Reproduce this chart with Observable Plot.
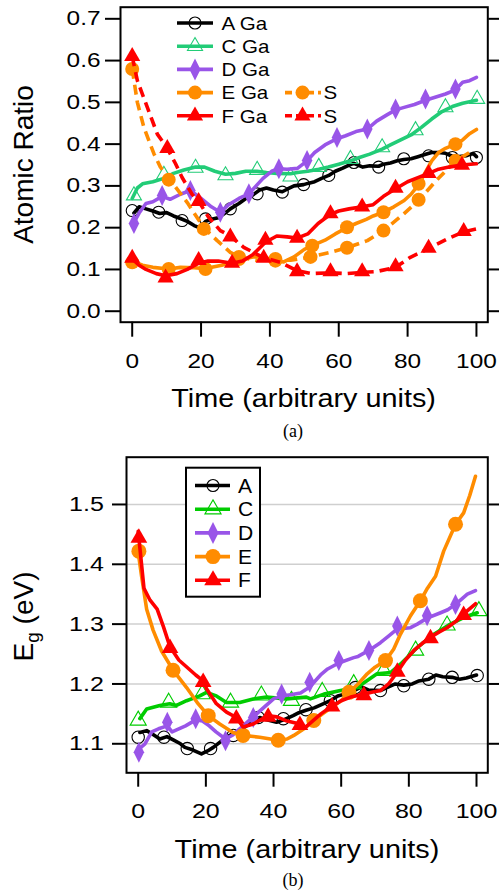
<!DOCTYPE html>
<html>
<head>
<meta charset="utf-8">
<script src="https://cdn.jsdelivr.net/npm/d3@7"></script>
<script src="https://cdn.jsdelivr.net/npm/@observablehq/plot@0.6"></script>
<style>
html,body{margin:0;padding:0;background:#fff;}
#wrap{position:relative;width:499px;height:893px;overflow:hidden;background:#fff;}
#pa{position:absolute;left:0;top:0;}
#pb{position:absolute;left:0;top:440px;}
.cap{position:absolute;width:40px;text-align:center;font-family:"Liberation Serif","Times New Roman",serif;font-size:18px;line-height:20px;color:#000;}
</style>
</head>
<body>
<div id="wrap">
<div id="pa"></div>
<div id="pb"></div>
<div class="cap" style="left:273px;top:421px;">(a)</div>
<div class="cap" style="left:273px;top:870px;">(b)</div>
</div>
<script>
// ---------- ticks & labels ----------
const xTicks = [0, 20, 40, 60, 80, 100];
const ratioTicks = [0, 0.1, 0.2, 0.3, 0.4, 0.5, 0.6, 0.7];
const egTicks = [1.1, 1.2, 1.3, 1.4, 1.5];
const legendA = ["A Ga", "C Ga", "D Ga", "E Ga", "F Ga"];
const legendS = ["S", "S"];
const legendB = ["A", "C", "D", "E", "F"];

// ---------- panel (a): atomic ratio ----------
const aA_line = [[0.5,0.235],[2,0.25],[4,0.245],[6,0.24],[8,0.234],[10,0.236],[12,0.228],[14,0.222],[16,0.215],[18,0.205],[19.5,0.2],[21.3,0.215],[23,0.22],[25,0.224],[27,0.235],[28.5,0.245],[31,0.258],[33,0.27],[35,0.278],[37,0.29],[39,0.295],[41,0.29],[43.6,0.286],[45,0.292],[47,0.3],[49.8,0.303],[51,0.306],[53,0.31],[55,0.318],[57.1,0.325],[59,0.335],[61,0.342],[63,0.35],[64.4,0.354],[67,0.345],[69,0.348],[71.6,0.347],[73,0.352],[75,0.355],[77,0.36],[78.9,0.363],[81,0.365],[83,0.37],[85,0.375],[87,0.38],[89,0.38],[91,0.378],[93,0.371],[95,0.37],[97,0.372],[99,0.378],[100,0.37]];
const aA_marks = [[0,0.241],[7.7,0.237],[14.5,0.217],[21.3,0.221],[28.5,0.245],[36.3,0.281],[43.6,0.285],[49.8,0.303],[57.1,0.325],[64.4,0.356],[71.6,0.345],[78.9,0.365],[86.1,0.372],[93,0.368],[100,0.368]];

const aC_line = [[0,0.27],[1.5,0.295],[3,0.305],[6,0.31],[9.2,0.318],[12,0.33],[15,0.338],[18.4,0.345],[21,0.345],[24,0.335],[27.1,0.328],[30,0.33],[33,0.335],[36.3,0.335],[39,0.332],[42,0.33],[46,0.329],[48,0.332],[51,0.335],[54.2,0.34],[57,0.345],[60,0.352],[63.4,0.36],[66,0.368],[69,0.376],[72.6,0.388],[75,0.398],[78,0.41],[81,0.422],[84,0.44],[87,0.46],[90,0.478],[93,0.49],[96,0.498],[100,0.505]];
const aC_marks = [[0.5,0.277],[9.2,0.326],[18.4,0.343],[27.1,0.325],[36.3,0.338],[46,0.322],[54.2,0.345],[63.4,0.364],[72.6,0.392],[82.3,0.433],[91,0.488],[100.2,0.508]];

const aD_line = [[0,0.205],[2,0.235],[4,0.258],[6,0.262],[8.7,0.275],[11,0.268],[14,0.28],[16.9,0.289],[20,0.27],[23,0.25],[25.6,0.237],[28,0.255],[31,0.27],[33.9,0.281],[36,0.3],[38,0.318],[40.5,0.335],[42.6,0.341],[45,0.34],[48,0.342],[50.8,0.36],[53,0.38],[56,0.398],[59.5,0.413],[62,0.42],[65,0.43],[68.3,0.436],[71,0.455],[74,0.47],[76.5,0.482],[79,0.488],[82,0.495],[85.2,0.505],[88,0.512],[91,0.52],[93.9,0.53],[96,0.548],[98,0.552],[100,0.56]];
const aD_marks = [[0.5,0.21],[8.7,0.277],[16.9,0.289],[25.6,0.237],[33.9,0.281],[42.6,0.341],[50.8,0.361],[59.5,0.416],[68.3,0.436],[76.5,0.484],[85.2,0.508],[93.9,0.532]];

const aE_line = [[0,0.12],[3,0.11],[6,0.105],[10.6,0.101],[14,0.105],[18,0.104],[21.3,0.102],[26,0.11],[31,0.122],[35,0.13],[38,0.13],[41.6,0.121],[44,0.118],[47,0.13],[50,0.148],[52.3,0.157],[56,0.17],[59,0.185],[62.4,0.2],[65,0.21],[68,0.22],[70,0.228],[73,0.237],[76,0.25],[79,0.265],[81,0.28],[83.2,0.303],[85,0.33],[87,0.36],[89,0.38],[91,0.39],[93.9,0.4],[96,0.41],[98,0.425],[100,0.435]];
const aE_marks = [[0,0.117],[10.6,0.101],[21.3,0.101],[31,0.125],[41.6,0.121],[52.3,0.157],[62.4,0.201],[73,0.237],[83.2,0.305],[93.9,0.4]];

const aES_line = [[0,0.58],[1.5,0.5],[3.4,0.44],[6.3,0.377],[8.2,0.345],[10.6,0.315],[12.6,0.297],[16,0.26],[18.4,0.23],[20.8,0.2],[24.7,0.169],[28.5,0.141],[31,0.13],[36,0.122],[41.6,0.122],[46,0.122],[51.8,0.13],[57.6,0.141],[62.4,0.152],[68.3,0.169],[73,0.193],[78.9,0.233],[83.2,0.265],[88,0.31],[93.9,0.36],[98,0.38]];
const aES_marks = [[0,0.58],[10.6,0.315],[20.8,0.197],[31,0.13],[41.6,0.125],[51.8,0.13],[62.4,0.152],[73,0.193],[83.2,0.267],[93.9,0.36]];

const aF_line = [[0,0.125],[2,0.11],[4,0.1],[7,0.09],[9.7,0.085],[13,0.09],[16,0.1],[19.3,0.115],[22,0.12],[25,0.12],[29,0.115],[32,0.12],[35,0.135],[38.7,0.165],[42,0.18],[45,0.178],[47.9,0.175],[51,0.185],[54,0.21],[57.6,0.232],[60,0.24],[63,0.245],[66.8,0.25],[70,0.255],[73,0.275],[76.5,0.293],[80,0.31],[83,0.32],[86.1,0.33],[89,0.34],[92,0.345],[95.8,0.35],[100,0.353]];
const aF_marks = [[0,0.127],[9.7,0.08],[19.3,0.122],[29,0.115],[38.7,0.17],[47.9,0.175],[57.6,0.234],[66.8,0.25],[76.5,0.295],[86.1,0.33],[95.8,0.35]];

const aFS_line = [[0,0.61],[1.5,0.552],[4.4,0.488],[7.3,0.424],[10.2,0.39],[12.6,0.353],[14.5,0.32],[17.4,0.28],[19.3,0.263],[22.2,0.225],[25.6,0.193],[28.5,0.18],[32.4,0.153],[38.2,0.128],[43,0.117],[47.9,0.097],[52,0.09],[57.6,0.092],[62,0.09],[66.8,0.093],[71,0.095],[76.5,0.105],[80.8,0.129],[86.1,0.15],[91.5,0.173],[96.3,0.19],[100,0.197]];
const aFS_marks = [[0,0.61],[10.2,0.39],[19.3,0.263],[28.5,0.178],[38.2,0.127],[47.9,0.095],[57.6,0.095],[66.8,0.095],[76.5,0.107],[86.1,0.151],[96.3,0.191]];

// ---------- panel (b): band gap ----------
const bA_line = [[0.5,1.119],[2.5,1.122],[4.5,1.115],[6.4,1.108],[8.5,1.112],[10.5,1.106],[12.5,1.1],[13.8,1.094],[16,1.09],[18.7,1.083],[20.5,1.088],[22.2,1.094],[24,1.102],[26.1,1.111],[28,1.117],[30,1.122],[32,1.13],[34,1.138],[35.9,1.144],[38,1.14],[40.9,1.136],[43,1.14],[45.8,1.147],[47.5,1.152],[49.6,1.156],[52,1.16],[54,1.165],[56.8,1.172],[59,1.18],[61,1.183],[64.2,1.19],[66,1.195],[68,1.19],[71.6,1.189],[74,1.195],[76,1.2],[78.5,1.198],[81,1.2],[83,1.205],[85.9,1.208],[88,1.215],[90,1.212],[92.8,1.211],[95,1.208],[97,1.21],[100,1.215]];
const bA_marks = [[0,1.111],[7.6,1.111],[14.5,1.092],[21.4,1.092],[28.1,1.114],[35.5,1.144],[42.9,1.142],[49.6,1.157],[56.8,1.172],[64.2,1.194],[71.6,1.189],[78.5,1.197],[85.9,1.208],[92.8,1.211],[100.2,1.214]];

const bC_line = [[0.5,1.142],[2.5,1.158],[6.4,1.164],[9.3,1.167],[11.3,1.164],[14.3,1.172],[18.2,1.18],[20.2,1.186],[23.1,1.18],[26.1,1.169],[30,1.169],[34,1.175],[37.9,1.178],[43.8,1.175],[49.7,1.178],[50.9,1.175],[54.9,1.183],[59.8,1.189],[64.7,1.194],[67.5,1.205],[70.6,1.217],[74.6,1.219],[77.5,1.233],[82.5,1.261],[87.4,1.283],[92.3,1.3],[96.2,1.311],[100.2,1.319]];
const bC_marks = [[0,1.139],[9,1.169],[18.9,1.183],[27.3,1.169],[36.4,1.181],[45.3,1.172],[54.4,1.187],[63.7,1.2],[72.6,1.222],[82,1.256],[91.3,1.298],[100.7,1.322]];

const bD_line = [[0,1.09],[2,1.1],[4,1.12],[6,1.125],[8.6,1.13],[10,1.12],[12,1.125],[14,1.13],[17,1.14],[19,1.138],[21,1.13],[23,1.12],[25.8,1.108],[28,1.115],[30,1.125],[32,1.135],[34,1.145],[36,1.155],[38,1.165],[40,1.175],[42.4,1.18],[45,1.182],[48,1.185],[50.7,1.195],[53.9,1.215],[56,1.225],[59.3,1.235],[63.7,1.244],[65,1.246],[68.2,1.256],[71.6,1.269],[74,1.28],[76.6,1.292],[80.5,1.294],[82.5,1.3],[85.4,1.31],[89.4,1.319],[91.5,1.324],[93.8,1.333],[97.3,1.35],[99.7,1.356]];
const bD_marks = [[0.2,1.086],[8.6,1.136],[17,1.142],[25.8,1.105],[34,1.144],[42.4,1.183],[50.7,1.203],[59.3,1.239],[68.2,1.256],[76.6,1.297],[85.4,1.314],[93.8,1.333]];

const bE_line = [[0,1.42],[1,1.38],[2.5,1.325],[4.4,1.29],[6.9,1.255],[10.3,1.223],[14.3,1.194],[17.7,1.167],[20.7,1.147],[24.1,1.133],[28,1.119],[31,1.114],[35.9,1.111],[41.4,1.106],[44,1.108],[46,1.114],[49,1.125],[51.9,1.139],[54.5,1.15],[57,1.16],[60,1.172],[62.3,1.186],[65,1.2],[67.7,1.217],[70,1.228],[73.1,1.239],[75.5,1.258],[77.5,1.283],[80.5,1.314],[83.4,1.339],[85.5,1.36],[87.9,1.38],[90.3,1.422],[93.8,1.467],[96.2,1.486],[98,1.515],[99.7,1.547]];
const bE_marks = [[0.2,1.422],[10.3,1.223],[20.7,1.147],[31,1.114],[41.4,1.106],[51.9,1.139],[62.3,1.186],[73.1,1.239],[83.4,1.339],[93.8,1.467]];

const bF_line = [[0,1.455],[1.7,1.36],[3.5,1.34],[5.6,1.325],[7.5,1.295],[9.4,1.262],[12,1.24],[15,1.225],[17,1.215],[19.2,1.205],[20.2,1.192],[23.1,1.167],[26.1,1.153],[29,1.144],[31,1.128],[34,1.133],[38.4,1.147],[41,1.145],[44,1.138],[47.8,1.133],[49.5,1.128],[54,1.15],[57.3,1.163],[60,1.172],[62.8,1.178],[66.7,1.183],[69,1.186],[71.6,1.189],[74,1.2],[76.6,1.22],[79,1.24],[81.5,1.256],[84,1.268],[86.4,1.278],[89,1.287],[91.3,1.294],[94,1.305],[96.2,1.317],[99.7,1.334]];
const bF_marks = [[0.2,1.444],[9.4,1.26],[19.2,1.203],[29,1.142],[38.4,1.145],[47.8,1.131],[57.3,1.162],[66.7,1.181],[76.6,1.22],[86.4,1.276],[96.2,1.315]];

// ---------- styling ----------
const black = "#000000", greenA = "#22cc77", greenB = "#00cc00", purple = "#9955e8", orange = "#ff8c00", red = "#ff0000";
const FONT = "'Liberation Sans', Arial, sans-serif";

// tall narrow diamond marker (custom symbol)
const tallDiamond = {
  draw(ctx, size) {
    const r = Math.sqrt(size / Math.PI);
    ctx.moveTo(0, -r); ctx.lineTo(r * 0.5, 0); ctx.lineTo(0, r); ctx.lineTo(-r * 0.5, 0); ctx.closePath();
  }
};

function series(line, marks, o) {
  return [
    Plot.line(line, {x: d => d[0], y: d => d[1], stroke: o.color, strokeWidth: 3.6,
      strokeDasharray: o.dash || null, strokeLinejoin: "round", strokeLinecap: o.dash ? "butt" : "round"}),
    Plot.dot(marks, {x: d => d[0], y: d => d[1], symbol: o.symbol, r: o.r,
      fill: o.open ? "none" : o.color, stroke: o.open ? o.color : "none", strokeWidth: o.open ? 1.1 : 0})
  ];
}

function stretch(nodes, k) {
  nodes.each(function() {
    const L = this.getComputedTextLength();
    if (L > 0) { this.setAttribute("textLength", (L * k).toFixed(2)); this.setAttribute("lengthAdjust", "spacingAndGlyphs"); }
  });
}

function legendRow(g, x0, x1, xm, y, color, dash, sym, r, open, label, tx, fs, k) {
  g.append("line").attr("x1", x0).attr("x2", x1).attr("y1", y).attr("y2", y)
    .attr("stroke", color).attr("stroke-width", 3.6).attr("stroke-dasharray", dash || null);
  g.append("path").attr("d", d3.symbol().type(sym).size(r * r * Math.PI)())
    .attr("transform", `translate(${xm},${y})`)
    .attr("fill", open ? "none" : color).attr("stroke", open ? color : "none").attr("stroke-width", 1.1);
  const t = g.append("text").attr("x", tx).attr("y", y + 0.36 * fs).attr("font-size", fs)
    .attr("text-anchor", "start").attr("font-family", FONT).attr("fill", "black").text(label);
  stretch(t, k);
}

// ---------- panel (a) ----------
const plotA = Plot.plot({
  width: 499, height: 415,
  marginLeft: 120, marginRight: 11.7, marginTop: 6.7, marginBottom: 93.3,
  x: {domain: [-3.4, 103.3]},
  y: {domain: [-0.0263, 0.7278]},
  style: {fontFamily: FONT, color: "black", background: "white", overflow: "visible"},
  marks: [
    Plot.axisX({ticks: xTicks, tickSize: 15, tickPadding: 16.5, fontSize: 20, strokeWidth: 2, label: null, tickFormat: d => String(d)}),
    Plot.axisY({ticks: ratioTicks, tickSize: 15, tickPadding: 5, fontSize: 20, strokeWidth: 2, label: null, tickFormat: d3.format(".1f")}),
    Plot.axisY({anchor: "right", ticks: ratioTicks, tickSize: 14, strokeWidth: 2, label: null, tickFormat: () => ""}),
    ...series(aA_line, aA_marks, {color: black, symbol: "circle", r: 6, open: true}),
    ...series(aC_line, aC_marks, {color: greenA, symbol: "triangle", r: 5.6, open: true}),
    ...series(aD_line, aD_marks, {color: purple, symbol: tallDiamond, r: 10.5}),
    ...series(aE_line, aE_marks, {color: orange, symbol: "circle", r: 7}),
    ...series(aES_line, aES_marks, {color: orange, symbol: "circle", r: 7, dash: "10,6"}),
    ...series(aF_line, aF_marks, {color: red, symbol: "triangle", r: 6}),
    ...series(aFS_line, aFS_marks, {color: red, symbol: "triangle", r: 6, dash: "10,6"}),
    Plot.frame({stroke: "black", strokeWidth: 2})
  ]
});
document.getElementById("pa").appendChild(plotA);

// ---------- panel (b) ----------
const plotB = Plot.plot({
  width: 499, height: 453,
  marginLeft: 126, marginRight: 11.7, marginTop: 16.7, marginBottom: 120.7,
  x: {domain: [-3.46, 103.34]},
  y: {domain: [1.0515, 1.579]},
  style: {fontFamily: FONT, color: "black", background: "white", overflow: "visible"},
  marks: [
    Plot.gridY({ticks: egTicks, stroke: "#cfcfcf", strokeOpacity: 1, strokeWidth: 1.5}),
    Plot.axisX({ticks: xTicks, tickSize: 14.4, tickPadding: 16.6, fontSize: 20.5, strokeWidth: 2, label: null, tickFormat: d => String(d)}),
    Plot.axisY({ticks: egTicks, tickSize: 14, tickPadding: 8.7, fontSize: 20.5, strokeWidth: 2, label: null, tickFormat: d3.format(".1f")}),
    Plot.axisY({anchor: "right", ticks: egTicks, tickSize: 14, strokeWidth: 2, label: null, tickFormat: () => ""}),
    ...series(bA_line, bA_marks, {color: black, symbol: "circle", r: 6.2, open: true}),
    ...series(bC_line, bC_marks, {color: greenB, symbol: "triangle", r: 6, open: true}),
    ...series(bD_line, bD_marks, {color: purple, symbol: tallDiamond, r: 10.5}),
    ...series(bE_line, bE_marks, {color: orange, symbol: "circle", r: 7.5}),
    ...series(bF_line, bF_marks, {color: red, symbol: "triangle", r: 6.2}),
    Plot.frame({stroke: "black", strokeWidth: 2})
  ]
});
document.getElementById("pb").appendChild(plotB);

// stretch tick labels horizontally (reference text is wide)
stretch(d3.select(plotA).selectAll('g[aria-label$="tick label"] text'), 1.22);
stretch(d3.select(plotB).selectAll('g[aria-label$="tick label"] text'), 1.22);

// ---------- titles & legends (a) ----------
const sA = d3.select(plotA);
sA.append("text").attr("transform", "translate(33,164.5) rotate(-90)").attr("text-anchor", "middle")
  .attr("font-family", FONT).attr("font-size", 28).attr("fill", "black").text("Atomic Ratio");
stretch(sA.append("text").attr("x", 303.6).attr("y", 406.5).attr("text-anchor", "middle")
  .attr("font-family", FONT).attr("font-size", 25.5).attr("fill", "black").text("Time (arbitrary units)"), 1.13);

const gA = sA.append("g");
const rowsA = [
  {c: black, s: d3.symbolCircle, r: 6, open: true},
  {c: greenA, s: d3.symbolTriangle, r: 5.6, open: true},
  {c: purple, s: tallDiamond, r: 11, open: false},
  {c: orange, s: d3.symbolCircle, r: 7, open: false},
  {c: red, s: d3.symbolTriangle, r: 6, open: false}
];
rowsA.forEach((d, i) => legendRow(gA, 177, 213, 195, 23 + 23.2 * i, d.c, null, d.s, d.r, d.open, legendA[i], 221.5, 19, 1.08));
legendRow(gA, 285, 321, 302.5, 23 + 23.2 * 3, orange, "7,4", d3.symbolCircle, 7, false, legendS[0], 323.5, 19, 1.08);
legendRow(gA, 285, 321, 302.5, 23 + 23.2 * 4, red, "7,4", d3.symbolTriangle, 6, false, legendS[1], 323.5, 19, 1.08);

// ---------- titles & legends (b) ----------
const sB = d3.select(plotB);
const eg = sB.append("text").attr("transform", "translate(33,176.5) rotate(-90)").attr("text-anchor", "middle")
  .attr("font-family", FONT).attr("font-size", 28).attr("fill", "black");
eg.append("tspan").text("E");
eg.append("tspan").attr("font-size", 19).attr("dy", 6).text("g");
eg.append("tspan").attr("dy", -6).text(" (eV)");
stretch(sB.append("text").attr("x", 307).attr("y", 418.3).attr("text-anchor", "middle")
  .attr("font-family", FONT).attr("font-size", 25.5).attr("fill", "black").text("Time (arbitrary units)"), 1.13);

const gB = sB.append("g");
gB.append("rect").attr("x", 186).attr("y", 27.7).attr("width", 74).attr("height", 129)
  .attr("fill", "white").attr("stroke", "black").attr("stroke-width", 2);
const rowsB = [
  {c: black, s: d3.symbolCircle, r: 6, open: true},
  {c: greenB, s: d3.symbolTriangle, r: 6, open: true},
  {c: purple, s: tallDiamond, r: 11, open: false},
  {c: orange, s: d3.symbolCircle, r: 7.5, open: false},
  {c: red, s: d3.symbolTriangle, r: 6.5, open: false}
];
rowsB.forEach((d, i) => legendRow(gB, 195, 230, 213, 45.5 + 23.7 * i, d.c, null, d.s, d.r, d.open, legendB[i], 238, 19.5, 1.08));
</script>
</body>
</html>
